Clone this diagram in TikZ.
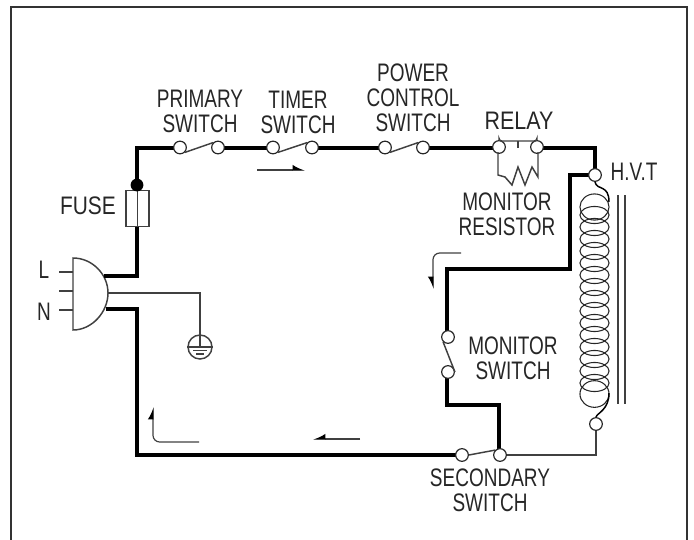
\documentclass[tikz,border=0pt]{standalone}
\usepackage{fontspec}
\setmainfont{Liberation Sans}
\usetikzlibrary{arrows.meta,positioning,calc}
\tikzset{
  thickwire/.style={draw, line width=3.2pt, line join=miter},
  thinwire/.style={draw, line width=1.1pt, black!75},
  terminal/.style={circle, draw=black!85, fill=white, line width=0.9pt, minimum size=9.5pt, inner sep=0pt},
  label/.style={font=\fontsize{19}{18.8}\selectfont, align=center, inner sep=0pt, text=black!85, xscale=0.75},
  flowleft/.style={draw, line width=0.9pt, black!75, rounded corners=5pt, -{Latex[length=8pt,width=8pt,left,black]}},
  flowright/.style={draw, line width=0.9pt, black!75, rounded corners=5pt, -{Latex[length=8pt,width=8pt,right,black]}},
}
\begin{document}
\begin{tikzpicture}[x=0.75pt, y=-0.75pt]
    \useasboundingbox (0,0) rectangle (694,540);

    % Outer frame
    \draw[line width=1.2pt, black!80] (11,540) -- (11,7) -- (687,7) -- (687,540);

    % Corner points
    \coordinate (topleft) at (137,148);
    \coordinate (topright) at (595,148);
    \coordinate (hvtcorner) at (570,175);
    \coordinate (midcorner) at (570,269);
    \coordinate (moncorner) at (447,269);
    \coordinate (botcorner) at (447,405);
    \coordinate (seccorner) at (499,405);
    \coordinate (botleft) at (137,455);
    \coordinate (plugtop) at (137,276);
    \coordinate (plugbot) at (137,309);
    \coordinate (fusetop) at (137,185);

    % Plug
    \draw[line width=1.1pt, black!75, fill=white] (73,258) .. controls (92,258) and (108,274) .. (108,293) .. controls (108,312) and (92,330) .. (73,330) -- cycle;
    \coordinate (plugout1) at (104,276);
    \coordinate (plugout2) at (106,309);
    \coordinate (plugmid) at (108,293);
    \coordinate (pinL) at (59,272);
    \coordinate (pinM) at (59,291);
    \coordinate (pinN) at (59,310);
    \draw[thinwire] (pinL) -- (73,272);
    \draw[thinwire] (pinM) -- (73,291);
    \draw[thinwire] (pinN) -- (73,310);

    % Heavy wires
    \coordinate (prim1w) at (180,148);
    \coordinate (sec1w) at (461,455);
    \draw[thickwire] (plugout1) -- (plugtop) -- (topleft) -- (prim1w);
    \draw[thickwire] (218,148) -- (273,148);
    \draw[thickwire] (312,148) -- (385,148);
    \draw[thickwire] (423,148) -- (499,148);
    \draw[thickwire] (537,148) -- (topright) -- (595,175);
    \draw[thickwire] (595,175) -- (hvtcorner) -- (midcorner) -- (moncorner) -- (447,337);
    \draw[thickwire] (447,372) -- (botcorner) -- (seccorner) -- (499,455);
    \draw[thickwire] (plugout2) -- (plugbot) -- (botleft) -- (sec1w);

    % Named terminals
    \node[terminal] (prim1) at (180,147.5) {};
    \node[terminal] (prim2) at (218,147.5) {};
    \node[terminal] (timer1) at (273,147.5) {};
    \node[terminal] (timer2) at (312,147.5) {};
    \node[terminal] (power1) at (385,147.5) {};
    \node[terminal] (power2) at (423,147.5) {};
    \node[terminal] (relay1) at (499,147) {};
    \node[terminal] (relay2) at (537,147) {};
    \node[terminal] (hvt1) at (595,175) {};
    \node[terminal] (hvt2) at (596,424) {};
    \node[terminal] (mon1) at (448,337) {};
    \node[terminal] (mon2) at (448,372) {};
    \node[terminal] (sec1) at (462,455) {};
    \node[terminal] (sec2) at (500,455) {};

    % Fuse
    \node[draw, black!75, line width=1.1pt, fill=white, minimum width=17pt, minimum height=27pt, inner sep=0pt, anchor=north] (fuse) at (137.5,190) {};
    \draw[thinwire] (fuse.north) -- (fuse.south);
    \fill (fusetop) circle (4.8pt);

    % Ground
    \node[circle, draw, black!75, line width=1.1pt, minimum size=18pt, inner sep=0pt] (ground) at (200,347) {};
    \draw[thinwire] (plugmid) -- (200,293) -- (ground.center);
    \draw[thinwire] (ground.west) -- (ground.east);
    \draw[thinwire] ($(ground.center)+(-7,3.5)$) -- ($(ground.center)+(7,3.5)$);
    \draw[thinwire] ($(ground.center)+(-4,7)$) -- ($(ground.center)+(4,7)$);

    % Switch blades
    \draw[thinwire] (prim1.south east) -- (prim2.north west);
    \draw[thinwire] (timer1.south east) -- (timer2.north west);
    \draw[thinwire] (power1.south east) -- (power2.north west);
    \draw[thinwire] (mon1.south west) -- (mon2.east);
    \draw[thinwire] (sec1.east) -- (sec2.north west);
    \draw[thinwire] (sec2) -- (hvt2 |- sec2) -- (hvt2);

    % Relay and resistor
    \draw[thinwire, rounded corners=2pt] (relay1.north) -- (499,141) -- (537,141) -- (relay2.north);
    \draw[thinwire] (518,141) -- (518,148);
    \draw[thinwire] (498,152) -- (498,175) -- (505,177) -- (512,185) -- (518,167) -- (525,185) -- (532,167) -- (538,177) -- (538,152);

    % Transformer coil
    \draw[thinwire, black] (hvt1.south) .. controls (597,191) and (609,184) .. (609,202);
    \draw[line width=0.8pt, black!85] (594.5,207) ellipse (10.9pt and 9.8pt);
    \foreach \n in {0,...,14} {
        \draw[line width=0.8pt, black!85] (594.5,{215+\n*12}) ellipse (10.9pt and 6.4pt);
    }
    \draw[line width=0.8pt, black!85] (594.5,394) ellipse (10.9pt and 10pt);
    \draw[thinwire, black] (hvt2.north) .. controls (597,413) and (609,410) .. (609,393);
    \draw[line width=1.1pt, black!75] (618,195) -- (618,404);
    \draw[line width=1.1pt, black!75] (625,195) -- (625,404);

    % Flow arrows
    \coordinate (arrA1) at (257,170);
    \coordinate (arrA2) at (305,170);
    \draw[flowleft] (arrA1) -- (arrA2);
    \coordinate (arrB1) at (461,253);
    \coordinate (arrB2) at (433,289);
    \draw[flowright] (arrB1) -- (433,253) -- (arrB2);
    \coordinate (arrC1) at (360,439);
    \coordinate (arrC2) at (313,439);
    \draw[flowright] (arrC1) -- (arrC2);
    \coordinate (arrD1) at (199,442);
    \coordinate (arrD2) at (153,407);
    \draw[flowleft] (arrD1) -- (153,442) -- (arrD2);

    % Labels
    \node[label] (lblprimary) at (200,111) {PRIMARY\\SWITCH};
    \node[label] (lbltimer) at (298,112) {TIMER\\SWITCH};
    \node[label] (lblpower) at (413,98) {POWER\\CONTROL\\SWITCH};
    \node[label, xscale=1.13] (lblrelay) at (519,121) {RELAY};
    \node[label] (lblhvt) at (634,172) {H.V.T};
    \node[label] (lblresistor) at (507,214) {MONITOR\\RESISTOR};
    \node[label] (lblmonitor) at (513,358) {MONITOR\\SWITCH};
    \node[label] (lblsecondary) at (490,490) {SECONDARY\\SWITCH};
    \node[label, xscale=1.1] (lblfuse) at (88,206) {FUSE};
    \node[label] (lblL) at (44,270) {L};
    \node[label] (lblN) at (44,312) {N};
\end{tikzpicture}
\end{document}
